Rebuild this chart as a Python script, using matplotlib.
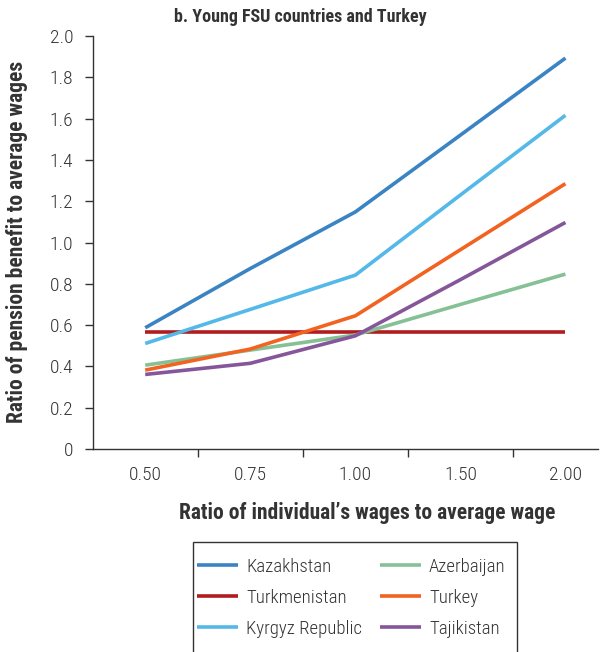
import numpy as np
import matplotlib
matplotlib.use("Agg")
import matplotlib.pyplot as plt
from matplotlib.patches import Rectangle

plt.rcParams['font.family'] = ['Roboto Condensed', 'DejaVu Sans']

# data
wage_ratio = ["0.50", "0.75", "1.00", "1.50", "2.00"]
kazakhstan = [0.587, 0.874, 1.148, 1.52, 1.893]
turkmenistan = [0.568, 0.568, 0.568, 0.568, 0.568]
kyrgyz = [0.511, 0.676, 0.842, 1.23, 1.616]
azerbaijan = [0.406, 0.479, 0.552, 0.70, 0.847]
turkey = [0.382, 0.484, 0.645, 0.965, 1.285]
tajikistan = [0.361, 0.415, 0.548, 0.82, 1.097]

series = [
    ("Kazakhstan", kazakhstan, "#3b84c4"),
    ("Turkmenistan", turkmenistan, "#b01c20"),
    ("Kyrgyz Republic", kyrgyz, "#54b8e8"),
    ("Azerbaijan", azerbaijan, "#86c095"),
    ("Turkey", turkey, "#f26322"),
    ("Tajikistan", tajikistan, "#85579a"),
]

txt = "#333333"
fs_tick = 14
fs_lab = 15.5
W, H = 611, 652
fig = plt.figure(figsize=(W/100, H/100), dpi=100)
ax = fig.add_axes([92.7/W, 1-449/H, (598-92.7)/W, (449-36)/H])

x = np.arange(len(wage_ratio))
lines = {}
for name, vals, col in series:
    lines[name], = ax.plot(x, vals, color=col, lw=2.6, solid_capstyle='butt', label=name)

ax.set_xlim(-0.5, 4.31)
ax.set_ylim(0, 2.0)
ax.set_yticks(np.arange(0, 2.01, 0.2))
ax.set_yticklabels(["0"] + ["%.1f" % v for v in np.arange(0.2, 2.01, 0.2)])
ax.set_xticks(x)
ax.set_xticklabels(wage_ratio)
ax.set_xticks(np.arange(0.5, 4, 1), minor=True)
ax.tick_params(axis='x', which='major', length=0, pad=12, labelsize=fs_tick, colors=txt)
ax.tick_params(axis='x', which='minor', length=6, width=1, color=txt, direction='out')
ax.tick_params(axis='y', length=6, width=1, color=txt, labelsize=fs_tick, labelcolor=txt, pad=8)
for lbl in ax.get_xticklabels() + ax.get_yticklabels():
    lbl.set_fontweight('light')
for s in ['top', 'right']:
    ax.spines[s].set_visible(False)
for s in ['left', 'bottom']:
    ax.spines[s].set_color(txt)
    ax.spines[s].set_linewidth(1)

fig.text(17/W, 1-242/H, "Ratio of pension benefit to average wages", rotation=90,
         ha='center', va='center', fontsize=fs_lab, fontweight='bold', color=txt)
fig.text(366.7/W, 1-513/H, "Ratio of individual\u2019s wages to average wage",
         ha='center', va='center', fontsize=fs_lab, fontweight='bold', color=txt)
fig.text(300/W, 1-17/H, "b. Young FSU countries and Turkey",
         ha='center', va='center', fontsize=13, fontweight='bold', color=txt)

# legend box runs off the bottom of the picture
fig.patches.append(Rectangle((192.7/W, -0.05), (517.3-192.7)/W, 0.05 + 1-541.7/H,
                             transform=fig.transFigure, fill=False,
                             edgecolor=txt, lw=1))
order = ["Kazakhstan", "Turkmenistan", "Kyrgyz Republic", "Azerbaijan", "Turkey", "Tajikistan"]
leg = fig.legend([lines[n] for n in order], order, ncol=2,
                 loc='upper left', bbox_to_anchor=(197/W, 1-558/H),
                 frameon=False, prop={'weight': 'light', 'size': 13.5},
                 handlelength=2.2, handletextpad=0.42, columnspacing=0.95,
                 labelspacing=0.68, borderpad=0, borderaxespad=0)
for t in leg.get_texts():
    t.set_color(txt)

fig.savefig("out.png", dpi=100)
